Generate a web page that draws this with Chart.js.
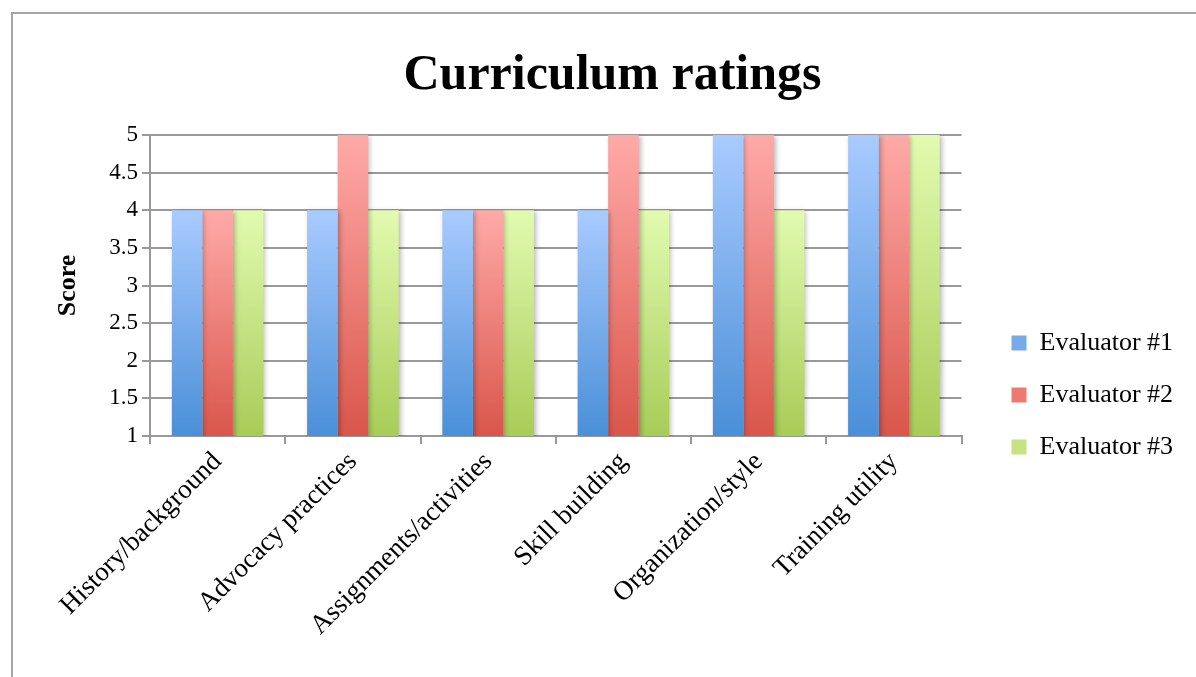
<!DOCTYPE html>
<html>
<head>
<meta charset="utf-8">
<script src="https://cdn.jsdelivr.net/npm/chart.js@4.4.1/dist/chart.umd.min.js"></script>
<style>
    html, body { margin: 0; padding: 0; background: #fff; overflow: hidden; }
    #frame {
        position: absolute;
        left: 11px;
        top: 12px;
        width: 1300px;
        height: 800px;
        border: 2px solid #a6a6a6;
    }
    #box { position: absolute; left: 0; top: 0; width: 1159px; height: 762px; }
</style>
</head>
<body>
<div id="frame"><div id="box"><canvas id="chart"></canvas></div></div>
<script>
const CATEGORIES = [
    'History/background',
    'Advocacy practices',
    'Assignments/activities',
    'Skill building',
    'Organization/style',
    'Training utility',
];
const SERIES_NAMES = ['Evaluator #1', 'Evaluator #2', 'Evaluator #3'];
const EVALUATOR_1 = [4, 4, 4, 4, 5, 5];
const EVALUATOR_2 = [4, 5, 4, 5, 5, 5];
const EVALUATOR_3 = [4, 4, 4, 4, 4, 5];
const Y_MIN = 1;
const Y_MAX = 5;
const Y_STEP = 0.5;

const FONT = '"Liberation Serif", "DejaVu Serif", serif';

// top / bottom colour of each bar's gradient
const SHADES = [
    { top: '#a9cbff', bottom: '#4a8fd8', mid: '#78aaea' },
    { top: '#ffaaa8', bottom: '#d9564b', mid: '#ec7a72' },
    { top: '#e2fbb0', bottom: '#a8cc58', mid: '#c6e283' },
];

function barGradient(shade) {
    return (ctx) => {
        const chart = ctx.chart;
        const y = chart.scales && chart.scales.y;
        if (!chart.chartArea || !y || ctx.raw === undefined) {
            return shade.mid;
        }
        const top = y.getPixelForValue(ctx.raw);
        const bottom = y.getPixelForValue(Y_MIN);
        if (!(bottom > top)) {
            return shade.mid;
        }
        const g = chart.ctx.createLinearGradient(0, top, 0, bottom);
        g.addColorStop(0, shade.top);
        g.addColorStop(1, shade.bottom);
        return g;
    };
}

// soft drop shadow behind the bars, like the office chart
const barShadow = {
    id: 'barShadow',
    beforeDatasetsDraw(chart) {
        const c = chart.ctx;
        c.save();
        c.shadowColor = 'rgba(0, 0, 0, 0.28)';
        c.shadowBlur = 5;
        c.shadowOffsetX = 2;
        c.shadowOffsetY = 1;
    },
    afterDatasetsDraw(chart) {
        chart.ctx.restore();
    },
};

const values = [EVALUATOR_1, EVALUATOR_2, EVALUATOR_3];
const datasets = SERIES_NAMES.map((name, i) => ({
    label: name,
    data: values[i],
    backgroundColor: barGradient(SHADES[i]),
    borderWidth: 0,
    categoryPercentage: 0.677,
    barPercentage: 1.0,
}));

new Chart(document.getElementById('chart'), {
    type: 'bar',
    data: { labels: CATEGORIES, datasets },
    plugins: [barShadow],
    options: {
        responsive: true,
        maintainAspectRatio: false,
        animation: false,
        layout: { padding: { left: 40, right: 0, top: 0, bottom: 0 } },
        plugins: {
            title: {
                display: true,
                text: 'Curriculum ratings',
                color: '#000',
                font: { family: FONT, size: 50, weight: 'bold' },
                padding: { top: 32, bottom: 29 },
            },
            legend: {
                position: 'right',
                labels: {
                    color: '#000',
                    font: { family: FONT, size: 26 },
                    boxWidth: 15,
                    boxHeight: 15,
                    padding: 26,
                    generateLabels(chart) {
                        return chart.data.datasets.map((ds, i) => ({
                            text: ds.label,
                            fillStyle: SHADES[i].mid,
                            strokeStyle: SHADES[i].mid,
                            lineWidth: 0,
                            datasetIndex: i,
                            hidden: false,
                        }));
                    },
                },
            },
            tooltip: { enabled: false },
        },
        scales: {
            x: {
                grid: {
                    drawOnChartArea: false,
                    color: '#999',
                    lineWidth: 2,
                    tickLength: 8,
                    offset: true,
                },
                border: { color: '#999', width: 2 },
                ticks: {
                    color: '#000',
                    font: { family: FONT, size: 27 },
                    minRotation: 45,
                    maxRotation: 45,
                    padding: 2,
                },
                afterFit(scale) {
                    scale.height = 340;
                },
            },
            y: {
                min: Y_MIN,
                max: Y_MAX,
                grid: { color: '#999', lineWidth: 2, tickLength: 8 },
                border: { color: '#999', width: 2 },
                ticks: {
                    stepSize: Y_STEP,
                    color: '#000',
                    font: { family: FONT, size: 23 },
                    padding: 4,
                    callback: (v) => String(v),
                },
                title: {
                    display: true,
                    text: 'Score',
                    color: '#000',
                    font: { family: FONT, size: 26, weight: 'bold' },
                    padding: { top: 0, bottom: 0 },
                },
                afterFit(scale) {
                    scale.width = 97;
                },
            },
            // empty spacer between the plot and the legend
            gap: {
                position: 'right',
                display: true,
                grid: { display: false },
                border: { display: false },
                ticks: { display: false },
                afterFit(scale) {
                    scale.width = 24;
                },
            },
        },
    },
});
</script>
</body>
</html>
